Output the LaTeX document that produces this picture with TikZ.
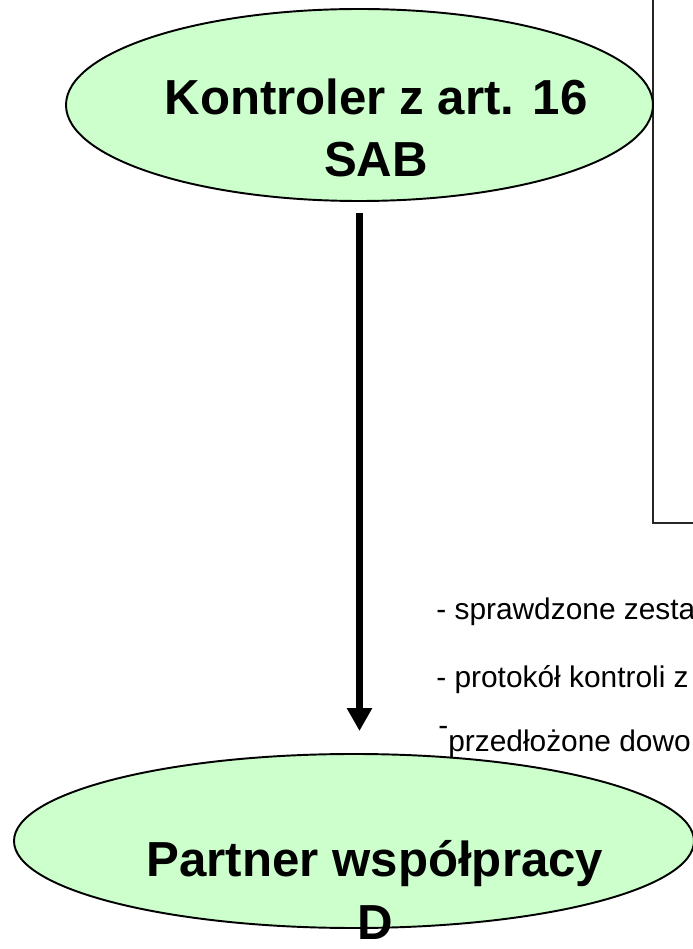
\documentclass[tikz,border=0pt]{standalone}
\usepackage{fontspec}
\setmainfont{Liberation Sans}
\usepackage{xcolor}
\usepackage{tikz}
\usetikzlibrary{shapes.geometric}
\usetikzlibrary{arrows.meta}
\definecolor{ovalgreen}{HTML}{CCFFCC}
\begin{document}
\begin{tikzpicture}[transform shape,scale=1,
	oval/.style={ellipse,draw=black,line width=1.1pt,fill=ovalgreen,inner sep=0pt},
	ovaltext/.style={font=\fontsize{28}{35.3}\selectfont\bfseries,align=center,anchor=base,inner sep=0pt},
	notetext/.style={font=\fontsize{17}{20}\selectfont,anchor=base west,inner sep=0pt}]
	\useasboundingbox (0,0) rectangle (13.86,18.98);
	\draw [line width=1.3pt,black!85] (13.06,18.98) -- (13.06,8.52) -- (13.86,8.52);
	\node[oval,minimum width=11.74cm,minimum height=3.84cm] (kontroler) at (7.19,16.88) {};
	\node[oval,minimum width=13.6cm,minimum height=3.48cm] (partner) at (7.08,2.16) {};
	\node[ovaltext] (kontroler text) at (7.52,15.44) {Kontroler z art. 16\\SAB};
	\node[ovaltext] (partner text) at (7.5,0.2) {Partner współpracy\\D};
	\draw [-{Triangle[width=0.48cm,length=0.46cm]},line width=0.14cm,shorten <=0.22cm,shorten >=0.44cm]
	(kontroler.south) -- (kontroler.south |- partner.north);
	\node[notetext] (note a) at (8.72,6.58) {- sprawdzone zesta};
	\node[notetext] (note b) at (8.72,5.22) {- protokół kontroli z};
	\node[notetext] (note c) at (8.76,3.94) {\raisebox{0.34cm}{-}przedłożone dowo};
\end{tikzpicture}
\end{document}
